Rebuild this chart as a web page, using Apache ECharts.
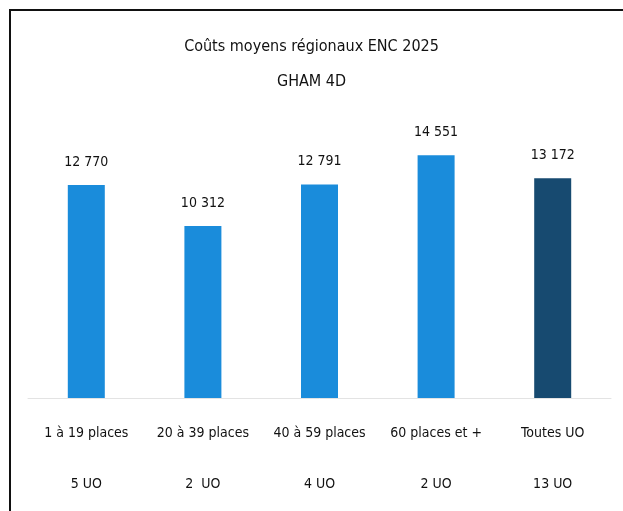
<!DOCTYPE html>
<html>
<head>
<meta charset="utf-8">
<script src="https://cdn.jsdelivr.net/npm/echarts@6/dist/echarts.min.js"></script>
<style>
  html, body { margin: 0; padding: 0; background: #fff; }
  #chart { width: 623px; height: 511px; }
</style>
</head>
<body>
<div id="chart"></div>
<script>
// Regional average costs by establishment size
const categories = ['1 à 19 places', '20 à 39 places', '40 à 59 places', '60 places et +', 'Toutes UO'];
const unitCounts = ['5 UO', '2  UO', '4 UO', '2 UO', '13 UO'];
const costs = [12770, 10312, 12791, 14551, 13172];
const barColors = ['#1a8cdb', '#1a8cdb', '#1a8cdb', '#1a8cdb', '#174a70'];

const FONT = "'DejaVu Sans Condensed', 'Liberation Sans', sans-serif";

// thousands separated by a space, French style
function fmt(v) {
  return String(v).replace(/\B(?=(\d{3})+(?!\d))/g, ' ');
}

const chart = echarts.init(document.getElementById('chart'));
chart.setOption({
  animation: false,
  backgroundColor: '#fff',
  title: {
    text: 'Coûts moyens régionaux ENC 2025\nGHAM 4D',
    left: 'center',
    top: 24,
    textStyle: { fontFamily: FONT, fontSize: 16, fontWeight: 'normal', color: '#111', lineHeight: 35 }
  },
  graphic: [{
    type: 'rect',
    shape: { x: 10, y: 10, width: 700, height: 600 },
    style: { fill: 'none', stroke: '#111', lineWidth: 2 },
    silent: true
  }],
  grid: { left: 28, right: 12, top: 131, bottom: 113, outerBoundsMode: 'none' },
  xAxis: {
    type: 'category',
    data: categories.map((c, i) => c + '\n' + unitCounts[i]),
    axisLine: { lineStyle: { color: '#e3e3e3', width: 1 } },
    axisTick: { show: false },
    axisLabel: {
      fontFamily: FONT, fontSize: 14, color: '#111',
      lineHeight: 51, margin: 10, interval: 0
    }
  },
  yAxis: {
    type: 'value', min: 0, max: 16000,
    show: false, splitLine: { show: false }
  },
  series: [{
    type: 'bar',
    barWidth: 37,
    data: costs.map((v, i) => ({ value: v, itemStyle: { color: barColors[i] } })),
    label: {
      show: true, position: 'top', distance: 16,
      fontFamily: FONT, fontSize: 14, color: '#111',
      formatter: p => fmt(p.value)
    }
  }]
});
</script>
</body>
</html>
